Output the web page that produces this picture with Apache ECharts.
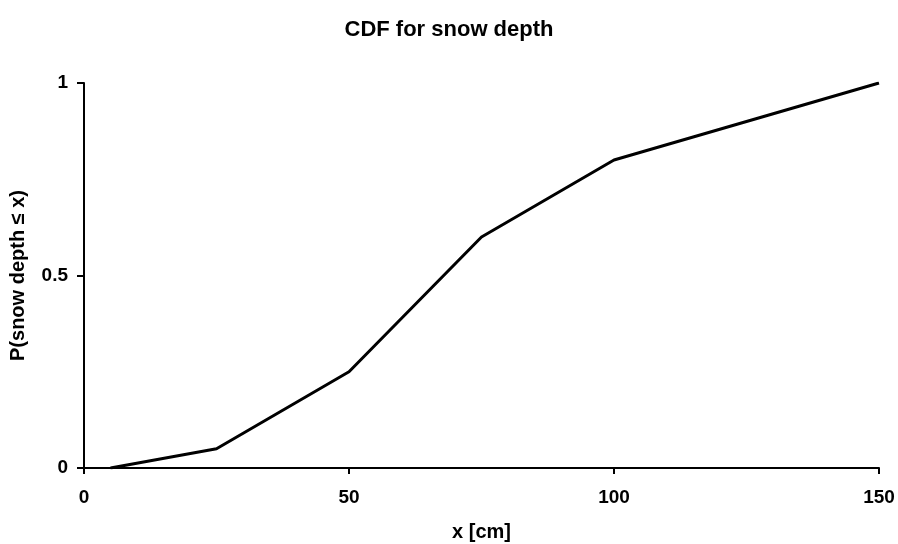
<!DOCTYPE html>
<html><head><meta charset="utf-8">
<script src="https://cdn.jsdelivr.net/npm/echarts@6/dist/echarts.min.js"></script>
<style>html,body{margin:0;padding:0;background:#fff}#c{width:898px;height:544px}</style>
</head><body><div id="c"></div>
<script>
const xValues = [5, 25, 50, 75, 100, 150];
const cdfValues = [0, 0.05, 0.25, 0.6, 0.8, 1];
const xTicks = [0, 50, 100, 150];
const yTicks = [0, 0.5, 1];
const F = 'Liberation Sans, Arial, sans-serif';
const chart = echarts.init(document.getElementById('c'));
chart.setOption({
  animation: false,
  title: {text: 'CDF for snow depth', left: 'center', top: 14,
    textStyle: {fontFamily: F, fontSize: 22, fontWeight: 'bold', color: '#000'}},
  grid: {left: 84, right: 19, top: 83, bottom: 76, outerBoundsMode: 'none', containLabel: false},
  xAxis: {type: 'value', min: 0, max: 150, interval: 50,
    name: 'x [cm]', nameLocation: 'middle', nameGap: 54,
    nameTextStyle: {fontFamily: F, fontSize: 20, fontWeight: 'bold', color: '#000'},
    axisLine: {lineStyle: {color: '#000', width: 2}},
    axisTick: {show: true, length: 6, lineStyle: {color: '#000', width: 2}},
    axisLabel: {fontFamily: F, fontSize: 19, fontWeight: 'bold', color: '#000', margin: 20,
      formatter: v => xTicks.includes(v) ? String(v) : ''},
    splitLine: {show: false}},
  yAxis: {type: 'value', min: 0, max: 1, interval: 0.5,
    name: 'P(snow depth ≤ x)', nameLocation: 'middle', nameGap: 56, nameRotate: 90,
    nameTextStyle: {fontFamily: F, fontSize: 20, fontWeight: 'bold', color: '#000'},
    axisLine: {show: true, lineStyle: {color: '#000', width: 2}},
    axisTick: {show: true, length: 7, lineStyle: {color: '#000', width: 2}},
    axisLabel: {fontFamily: F, fontSize: 19, fontWeight: 'bold', color: '#000', margin: 16,
      formatter: v => yTicks.includes(v) ? String(v) : ''},
    splitLine: {show: false}},
  series: [{type: 'line', data: xValues.map((x, i) => [x, cdfValues[i]]),
    symbol: 'none', lineStyle: {color: '#000', width: 3}}]
});
</script></body></html>
